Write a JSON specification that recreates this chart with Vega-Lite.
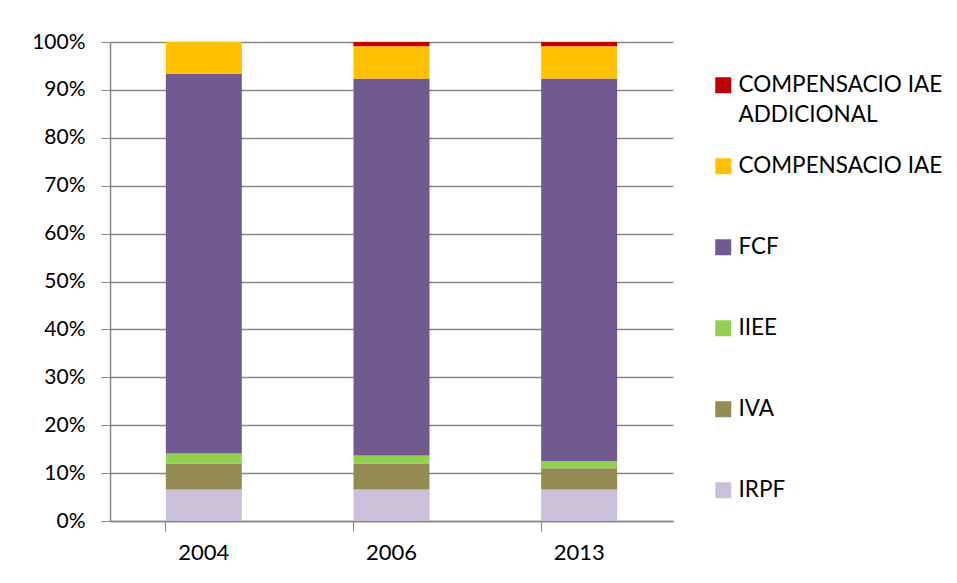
{
  "$schema": "https://vega.github.io/schema/vega-lite/v6.json",
  "width": 563,
  "height": 479,
  "autosize": {"type": "none"},
  "padding": {"left": 110, "top": 42, "right": 284, "bottom": 62},
  "background": "white",
  "data": {
    "values": [
      {"year": "2004", "concepte": "IRPF", "ord": 1, "valor": 6.6},
      {"year": "2004", "concepte": "IVA", "ord": 2, "valor": 5.4},
      {"year": "2004", "concepte": "IIEE", "ord": 3, "valor": 2.1},
      {"year": "2004", "concepte": "FCF", "ord": 4, "valor": 79.2},
      {"year": "2004", "concepte": "COMPENSACIO IAE", "ord": 5, "valor": 6.7},
      {"year": "2004", "concepte": "COMPENSACIO IAE ADDICIONAL", "ord": 6, "valor": 0},
      {"year": "2006", "concepte": "IRPF", "ord": 1, "valor": 6.6},
      {"year": "2006", "concepte": "IVA", "ord": 2, "valor": 5.4},
      {"year": "2006", "concepte": "IIEE", "ord": 3, "valor": 1.7},
      {"year": "2006", "concepte": "FCF", "ord": 4, "valor": 78.7},
      {"year": "2006", "concepte": "COMPENSACIO IAE", "ord": 5, "valor": 6.7},
      {"year": "2006", "concepte": "COMPENSACIO IAE ADDICIONAL", "ord": 6, "valor": 0.9},
      {"year": "2013", "concepte": "IRPF", "ord": 1, "valor": 6.6},
      {"year": "2013", "concepte": "IVA", "ord": 2, "valor": 4.4},
      {"year": "2013", "concepte": "IIEE", "ord": 3, "valor": 1.5},
      {"year": "2013", "concepte": "FCF", "ord": 4, "valor": 79.9},
      {"year": "2013", "concepte": "COMPENSACIO IAE", "ord": 5, "valor": 6.7},
      {"year": "2013", "concepte": "COMPENSACIO IAE ADDICIONAL", "ord": 6, "valor": 0.9}
    ]
  },
  "mark": {"type": "bar"},
  "encoding": {
    "x": {
      "field": "year",
      "type": "nominal",
      "scale": {"paddingInner": 0.595, "paddingOuter": 0.2975},
      "axis": {
        "title": null,
        "labelAngle": 0,
        "labelFont": "Lato",
        "labelFontSize": 22,
        "labelColor": "black",
        "labelPadding": 11,
        "bandPosition": 0,
        "tickSize": 10,
        "tickColor": "#868686",
        "domainColor": "#868686",
        "domainWidth": 1.5,
        "grid": false
      }
    },
    "y": {
      "field": "valor",
      "type": "quantitative",
      "stack": "normalize",
      "scale": {"domain": [0, 1]},
      "axis": {
        "title": null,
        "format": ".0%",
        "values": [0, 0.1, 0.2, 0.3, 0.4, 0.5, 0.6, 0.7, 0.8, 0.9, 1],
        "labelOverlap": false,
        "labelFont": "Lato",
        "labelFontSize": 21,
        "labelColor": "black",
        "labelPadding": 16,
        "tickSize": 9,
        "tickColor": "#868686",
        "domainColor": "#868686",
        "domainWidth": 1.5,
        "gridColor": "#868686",
        "gridWidth": 1.5
      }
    },
    "color": {
      "field": "concepte",
      "type": "nominal",
      "scale": {
        "domain": ["COMPENSACIO IAE ADDICIONAL", "COMPENSACIO IAE", "FCF", "IIEE", "IVA", "IRPF"],
        "range": ["#C00000", "#FFC000", "#705A8E", "#92D050", "#948A54", "#CBC0DA"]
      },
      "legend": {
        "title": null,
        "orient": "none",
        "legendX": 602,
        "legendY": 32,
        "symbolType": "square",
        "symbolSize": 256,
        "symbolStrokeWidth": 0,
        "labelFont": "Lato",
        "labelFontSize": 22.5,
        "labelColor": "black",
        "labelLimit": 300,
        "labelOffset": 4,
        "gridAlign": "all",
        "rowPadding": 28,
        "labelExpr": "datum.label == 'COMPENSACIO IAE ADDICIONAL' ? ['COMPENSACIO IAE', 'ADDICIONAL'] : datum.label"
      }
    },
    "order": {"field": "ord", "type": "quantitative", "sort": "ascending"}
  },
  "config": {
    "view": {"stroke": null},
    "style": {"guide-label": {"lineHeight": 30}}
  }
}
